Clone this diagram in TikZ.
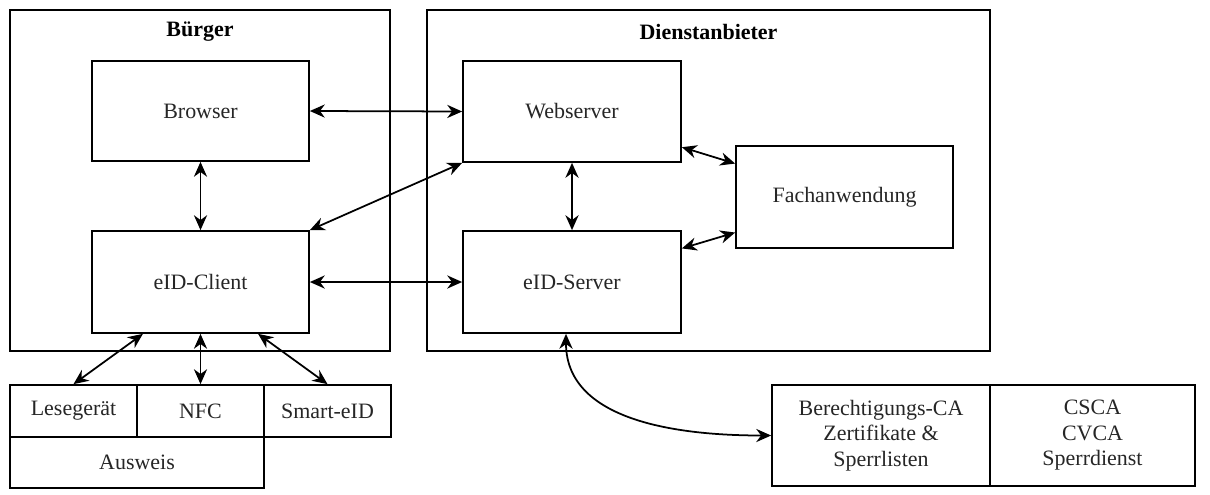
\documentclass[tikz,border=0pt]{standalone}
\usepackage{fontspec}
\setmainfont{Liberation Serif}
\usetikzlibrary{arrows.meta,calc}

\tikzset{
	box/.style={draw, line width=1pt, inner sep=0pt, align=center, text=black!85, font=\fontsize{12.5}{14.5}\selectfont},
	title/.style={font=\fontsize{12.5}{15}\selectfont\bfseries},
	link/.style={line width=1pt, {Stealth[length=8.5pt,width=7.5pt]}-{Stealth[length=8.5pt,width=7.5pt]}}
}

\begin{document}
\begin{tikzpicture}[x=0.02cm, y=-0.02cm]
		\useasboundingbox (0,0) rectangle (1210,494);
		% groups
		\node[box, minimum width=7.6cm, minimum height=6.82cm] (buerger) at (200,180.5) {};
		\node[box, minimum width=11.26cm, minimum height=6.82cm] (anbieter) at (708.5,180.5) {};
		\node[title] (buergertitle) at (200,32) {Bürger};
		\node[title] (anbietertitle) at (708.5,32) {Dienstanbieter};
		% components
		\node[box, minimum width=4.34cm, minimum height=2cm] (browser) at (200.5,111) {Browser};
		\node[box, minimum width=4.34cm, minimum height=2.04cm] (eidclient) at (200.5,282) {eID-Client};
		\node[box, minimum width=4.36cm, minimum height=2.02cm] (webserver) at (572,111.5) {Webserver};
		\node[box, minimum width=4.36cm, minimum height=2.04cm] (eidserver) at (572,282) {eID-Server};
		\node[box, minimum width=4.34cm, minimum height=2.04cm] (fach) at (844.5,197) {Fachanwendung};
		% card side
		\node[box, minimum width=2.54cm, minimum height=1.04cm] (lesegeraet) at (73.5,411) {Lesegerät};
		\node[box, minimum width=2.54cm, minimum height=1.04cm] (nfc) at (200.5,411) {NFC};
		\node[box, minimum width=2.54cm, minimum height=1.04cm] (smarteid) at (327.5,411) {Smart-eID};
		\node[box, minimum width=5.08cm, minimum height=1.02cm] (ausweis) at (137,462.5) {Ausweis};
		% PKI
		\node[box, minimum width=4.36cm, minimum height=2.02cm] (berechtigung) at (881,435.5) {Berechtigungs-CA\\Zertifikate \&\\Sperrlisten};
		\node[box, minimum width=4.1cm, minimum height=2.02cm] (csca) at (1092.5,435.5) {CSCA\\CVCA\\Sperrdienst};
		% connections
		\draw[link] (browser.east) -- (webserver.west);
		\draw[link] (browser.south) -- (eidclient.north);
		\draw[link] (eidclient.north east) -- (webserver.south west);
		\draw[link] (eidclient.east) -- (eidserver.west);
		\draw[link] (webserver.south) -- (eidserver.north);
		\draw[link] (webserver.-18) -- (fach.163);
		\draw[link] (eidserver.17) -- (fach.-162);
		\draw[link] (eidclient.-138) -- (lesegeraet.north);
		\draw[link] (eidclient.south) -- (nfc.north);
		\draw[link] (eidclient.-42) -- (smarteid.north);
		\draw[link] ($(eidserver.south)+(-6,0)$) .. controls (566,425) and (690,435.5) .. (berechtigung.west);
	\end{tikzpicture}
\end{document}
